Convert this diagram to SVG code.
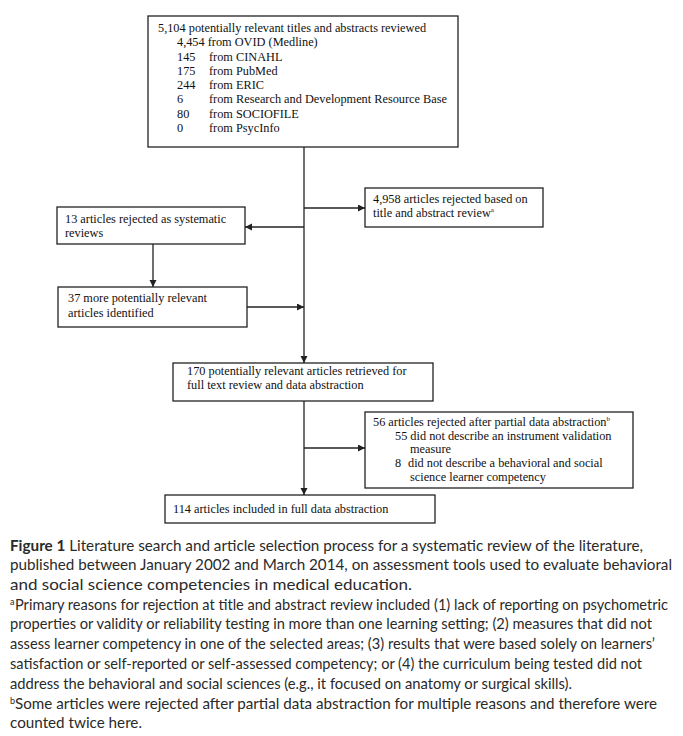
<svg xmlns="http://www.w3.org/2000/svg" width="683" height="736" viewBox="0 0 683 736">
<defs>
<marker id="ah" markerWidth="8" markerHeight="8" refX="7" refY="3.5" orient="auto" markerUnits="userSpaceOnUse">
<path d="M0,0 L7,3.5 L0,7 Z" fill="#222"/>
</marker>
</defs>
<style>
.box{fill:#fff;stroke:#222;stroke-width:1.3}
.t{font-family:"Liberation Serif","Times New Roman",serif;font-size:12.3px;fill:#111}
.c{font-family:Lato,"Open Sans",sans-serif;font-size:15px;fill:#2a2a2a}
.s{font-family:Lato,"Open Sans",sans-serif;font-size:9px;fill:#2a2a2a}
.ln{stroke:#222;stroke-width:1.3;fill:none}
</style>
<rect width="683" height="736" fill="#fff"/>
<g id="connectors">
<line class="ln" x1="304" y1="147" x2="304" y2="363" marker-end="url(#ah)"/>
<line class="ln" x1="304" y1="208" x2="365" y2="208" marker-end="url(#ah)"/>
<line class="ln" x1="304" y1="227" x2="245" y2="227" marker-end="url(#ah)"/>
<line class="ln" x1="153" y1="244" x2="153" y2="287" marker-end="url(#ah)"/>
<line class="ln" x1="247" y1="307" x2="304" y2="307" marker-end="url(#ah)"/>
<line class="ln" x1="304" y1="401" x2="304" y2="495" marker-end="url(#ah)"/>
<line class="ln" x1="304" y1="448" x2="365" y2="448" marker-end="url(#ah)"/>
</g>
<g id="n1">
<rect class="box" x="148" y="16" width="310" height="131"/>
<text class="t" x="158" y="32">5,104 potentially relevant titles and abstracts reviewed</text>
<text class="t" x="177" y="46">4,454 from OVID (Medline)</text>
<text class="t" x="177" y="61">145</text><text class="t" x="209" y="61">from CINAHL</text>
<text class="t" x="177" y="75">175</text><text class="t" x="209" y="75">from PubMed</text>
<text class="t" x="177" y="89">244</text><text class="t" x="209" y="89">from ERIC</text>
<text class="t" x="177" y="103">6</text><text class="t" x="209" y="103">from Research and Development Resource Base</text>
<text class="t" x="177" y="118">80</text><text class="t" x="209" y="118">from SOCIOFILE</text>
<text class="t" x="177" y="132">0</text><text class="t" x="209" y="132">from PsycInfo</text>
</g>
<g id="n2">
<rect class="box" x="365" y="188" width="178" height="39"/>
<text class="t" x="373" y="203">4,958 articles rejected based on</text>
<text class="t" x="373" y="217">title and abstract review<tspan font-size="7" dy="-5">a</tspan></text>
</g>
<g id="n3">
<rect class="box" x="57" y="207" width="188" height="37"/>
<text class="t" x="65" y="223">13 articles rejected as systematic</text>
<text class="t" x="65" y="237">reviews</text>
</g>
<g id="n4">
<rect class="box" x="58" y="287" width="189" height="40"/>
<text class="t" x="68" y="302">37 more potentially relevant</text>
<text class="t" x="68" y="317">articles identified</text>
</g>
<g id="n5">
<rect class="box" x="173" y="363" width="260" height="38"/>
<text class="t" x="187" y="375">170 potentially relevant articles retrieved for</text>
<text class="t" x="187" y="389">full text review and data abstraction</text>
</g>
<g id="n6">
<rect class="box" x="365" y="412" width="268" height="76"/>
<text class="t" x="373" y="426">56 articles rejected after partial data abstraction<tspan font-size="7" dy="-5">b</tspan></text>
<text class="t" x="395" y="440">55 did not describe an instrument validation</text>
<text class="t" x="410" y="453">measure</text>
<text class="t" x="395" y="467">8</text><text class="t" x="408" y="467">did not describe a behavioral and social</text>
<text class="t" x="410" y="481">science learner competency</text>
</g>
<g id="n7">
<rect class="box" x="165" y="495" width="270" height="28"/>
<text class="t" x="173" y="513">114 articles included in full data abstraction</text>
</g>
<g id="caption">
<text class="c" x="10" y="551" textLength="633" lengthAdjust="spacingAndGlyphs"><tspan font-weight="bold">Figure 1</tspan> Literature search and article selection process for a systematic review of the literature,</text>
<text class="c" x="10" y="570" textLength="662" lengthAdjust="spacingAndGlyphs">published between January 2002 and March 2014, on assessment tools used to evaluate behavioral</text>
<text class="c" x="10" y="590" textLength="402" lengthAdjust="spacingAndGlyphs">and social science competencies in medical education.</text>
<text class="s" x="10" y="605">a</text>
<text class="c" x="15" y="610" textLength="653" lengthAdjust="spacingAndGlyphs">Primary reasons for rejection at title and abstract review included (1) lack of reporting on psychometric</text>
<text class="c" x="10" y="629" textLength="642" lengthAdjust="spacingAndGlyphs">properties or validity or reliability testing in more than one learning setting; (2) measures that did not</text>
<text class="c" x="10" y="649" textLength="645" lengthAdjust="spacingAndGlyphs">assess learner competency in one of the selected areas; (3) results that were based solely on learners’</text>
<text class="c" x="10" y="669" textLength="632" lengthAdjust="spacingAndGlyphs">satisfaction or self-reported or self-assessed competency; or (4) the curriculum being tested did not</text>
<text class="c" x="10" y="689" textLength="562" lengthAdjust="spacingAndGlyphs">address the behavioral and social sciences (e.g., it focused on anatomy or surgical skills).</text>
<text class="s" x="10" y="704">b</text>
<text class="c" x="15" y="709" textLength="642" lengthAdjust="spacingAndGlyphs">Some articles were rejected after partial data abstraction for multiple reasons and therefore were</text>
<text class="c" x="10" y="728" textLength="132" lengthAdjust="spacingAndGlyphs">counted twice here.</text>
</g>
</svg>
